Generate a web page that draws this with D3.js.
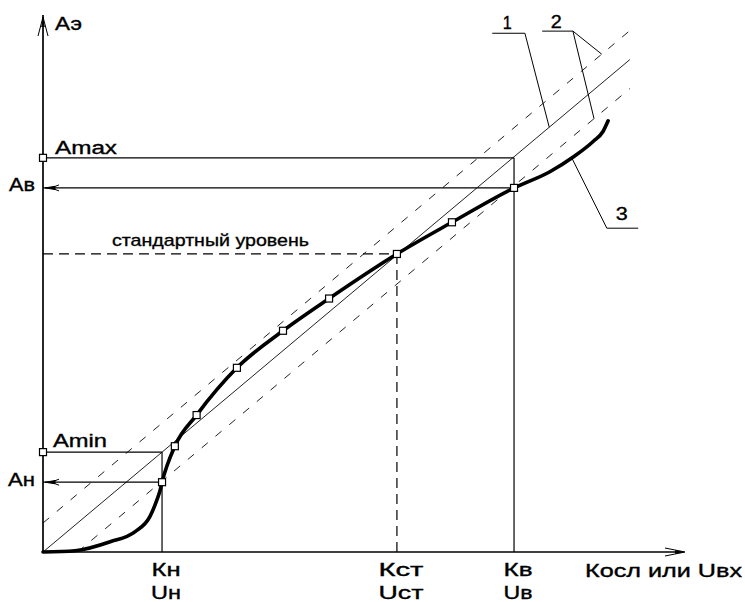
<!DOCTYPE html>
<html><head><meta charset="utf-8">
<script src="https://cdn.jsdelivr.net/npm/d3@7"></script>
<style>
body{margin:0;background:#fff}
text{font-family:"Liberation Sans",Arial,sans-serif;fill:#000;stroke:#000;stroke-width:0.35}
</style>
</head><body>
<svg id="c" width="745" height="602"></svg>
<script>
// ---- data (arbitrary units, 0..100 on both axes) ----
const curveX = [0, 5.0, 10.5, 14.4, 16.7, 17.8, 18.3, 18.6, 20.6, 24.0, 30.3, 37.5, 44.7, 55.3, 63.9, 73.6, 79.2, 82.9, 86.0, 87.5, 88.3];
const curveY = [0, 0.24, 1.9, 3.8, 6.6, 9.7, 11.5, 13.0, 19.7, 25.5, 34.3, 41.2, 47.2, 55.5, 61.4, 67.8, 70.8, 73.6, 76.5, 78.3, 80.3];
const markerX = [18.6, 20.6, 24.0, 30.3, 37.5, 44.7, 55.3, 63.9, 73.6];
const markerY = [13.0, 19.7, 25.5, 34.3, 41.2, 47.2, 55.5, 61.4, 67.8];
const idealX = [0, 91.7];
const idealY = [0, 91.7];
const bandUpperX = [0, 91.7];
const bandUpperY = [5.4, 97.1];
const bandLowerX = [5.4, 91.7];
const bandLowerY = [0, 86.3];
const xTickValues = [18.6, 55.3, 73.6];           // Кн, Кст, Кв
const xTickLabels = [["Кн","Uн"],["Кст","Uст"],["Кв","Uв"]];
const levelAmax = 73.4, levelAv = 67.8, levelStd = 55.5, levelAmin = 18.6, levelAn = 13.0;
const levelLabels = {amax:"Amax", av:"Ав", amin:"Amin", an:"Ан", std:"стандартный уровень"};
const axisLabels = {y:"Аэ", x:"Косл или Uвх"};
const callout1 = {label:"1", x:[70.2, 75.3, 79.1], y:[96.6, 96.6, 79.1]};
const callout2 = {label:"2", x:[78.0, 82.8, 87.3, 82.8, 86.1], y:[97.0, 97.0, 92.7, 97.0, 80.7]};
const callout3 = {label:"3", x:[82.7, 88.1, 93.0], y:[73.2, 60.3, 60.3]};

// ---- scales ----
const x = d3.scaleLinear().domain([0, 100]).range([43, 683]);
const y = d3.scaleLinear().domain([0, 100]).range([552, 15]);
const svg = d3.select("#c");
const line = d3.line().x(d => x(d[0])).y(d => y(d[1]));
const zip = (a, b) => a.map((v, i) => [v, b[i]]);

function seg(pts, w, dash, col) {
  const p = svg.append("path").attr("d", line(pts)).attr("fill", "none")
    .attr("stroke", col || "#000").attr("stroke-width", w);
  if (dash) p.attr("stroke-dasharray", dash);
  return p;
}
// tolerance band and ideal line
seg(zip(bandUpperX, bandUpperY), 1, "8,10", "#222");
seg(zip(bandLowerX, bandLowerY), 1, "8,10", "#222");
seg(zip(idealX, idealY), 1, null, "#222");

// level lines
seg([[0, levelAmax], [xTickValues[2], levelAmax]], 1.2);
seg([[xTickValues[2], 0], [xTickValues[2], levelAmax]], 1.2);
seg([[0, levelAv], [xTickValues[2], levelAv]], 1.2);
seg([[0, levelStd], [xTickValues[1], levelStd]], 1.2, "10,6");
seg([[xTickValues[1], 0], [xTickValues[1], levelStd]], 1.2, "10,6");
seg([[0, levelAmin], [xTickValues[0], levelAmin]], 1.2);
seg([[xTickValues[0], 0], [xTickValues[0], levelAmin]], 1.2);
seg([[0, levelAn], [xTickValues[0], levelAn]], 1.2);

function leftArrow(px, py) {
  svg.append("path").attr("d", `M${px+2},${py} L${px+12},${py-1.6} L${px+12},${py+1.6} Z`).attr("fill", "#000").attr("stroke","#000").attr("stroke-width",1);
  svg.append("path").attr("d", `M${px+8},${py} L${px+16},${py-3} M${px+8},${py} L${px+16},${py+3}`).attr("stroke","#000").attr("stroke-width",1).attr("fill","none");
}
leftArrow(x(0), y(levelAv));
leftArrow(x(0), y(levelAn));

// axes
svg.append("path").attr("d", line([[0, 0], [0, 100]])).attr("stroke", "#000").attr("stroke-width", 1.7).attr("fill","none");
svg.append("path").attr("d", line([[0, 0], [100, 0]])).attr("stroke", "#000").attr("stroke-width", 1.7).attr("fill","none");
{
  const tx = x(0), ty = y(100) + 2;
  svg.append("path").attr("d", `M${tx},${ty} L${tx-1.8},${ty+10} L${tx+1.8},${ty+10} Z`).attr("fill","#000");
  svg.append("path").attr("d", `M${tx},${ty} L${tx-5},${ty+19} M${tx},${ty} L${tx+5},${ty+19}`).attr("stroke","#000").attr("stroke-width",1).attr("fill","none");
}
{
  const tx = x(100) + 2, ty = y(0);
  svg.append("path").attr("d", `M${tx},${ty} L${tx-10},${ty-1.8} L${tx-10},${ty+1.8} Z`).attr("fill","#000");
  svg.append("path").attr("d", `M${tx},${ty} L${tx-20},${ty-4} M${tx},${ty} L${tx-20},${ty+4}`).attr("stroke","#000").attr("stroke-width",1).attr("fill","none");
}

// response curve 3
svg.append("path").attr("d", d3.line().x(d => x(d[0])).y(d => y(d[1])).curve(d3.curveMonotoneX)(zip(curveX, curveY)))
  .attr("fill", "none").attr("stroke", "#000").attr("stroke-width", 3.6).attr("stroke-linecap","round");

// markers
const markers = zip(markerX, markerY).concat([[0, levelAmax], [0, levelAmin]]);
svg.selectAll("rect.m").data(markers).enter().append("rect").attr("class", "m")
  .attr("x", d => x(d[0]) - 3.5).attr("y", d => y(d[1]) - 3.5)
  .attr("width", 7).attr("height", 7).attr("fill", "#fff").attr("stroke", "#000").attr("stroke-width", 1.2);

// callouts
[callout1, callout2, callout3].forEach(c => {
  const pts = zip(c.x, c.y);
  if (c.label === "2") {
    seg(pts.slice(0, 3), 1);
    seg(pts.slice(3), 1);
  } else seg(pts, 1);
});

function txt(s, px, py, len, anchor, size) {
  return svg.append("text").attr("x", px).attr("y", py).text(s)
    .attr("font-size", size || 18).attr("text-anchor", anchor || "start")
    .attr("textLength", len).attr("lengthAdjust", "spacingAndGlyphs");
}
txt(axisLabels.y, x(0) + 12, y(100) + 15, 27);
txt(axisLabels.x, 585, y(0) + 25, 157);
txt(levelLabels.amax, x(0) + 12, y(levelAmax) - 4, 62);
txt(levelLabels.amin, x(0) + 10, y(levelAmin) - 5, 54);
txt(levelLabels.av, x(0) - 8, y(levelAv) + 3, 26, "end");
txt(levelLabels.an, x(0) - 8, y(levelAn) + 4, 27, "end");
txt(levelLabels.std, x(0) + 69, y(levelStd) - 8, 197, "start", 17);
const tickW = [[29, 30], [45, 45], [29, 29]];
xTickValues.forEach((v, i) => {
  txt(xTickLabels[i][0], x(v) + 4, y(0) + 24, tickW[i][0], "middle");
  txt(xTickLabels[i][1], x(v) + 4, y(0) + 47, tickW[i][1], "middle");
});
txt(callout1.label, x(callout1.x[0]) + 15, y(callout1.y[0]) - 4, 9, "middle", 18);
txt(callout2.label, x(callout2.x[0]) + 14, y(callout2.y[0]) - 3, 11, "middle", 18);
txt(callout3.label, x(callout3.x[1]) + 15, y(callout3.y[1]) - 8, 12, "middle", 18);
</script>
</body></html>
